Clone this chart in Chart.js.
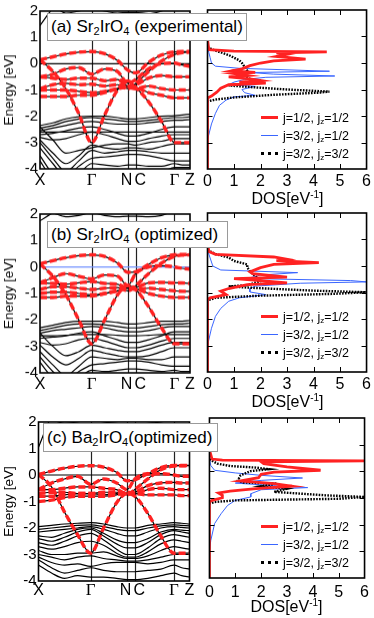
<!DOCTYPE html>
<html>
<head>
<meta charset="utf-8">
<script src="https://cdn.jsdelivr.net/npm/chart.js@4.4.1/dist/chart.umd.min.js"></script>
<style>
  body { margin: 0; background: #fff; font-family: "Liberation Sans", Arial, sans-serif; }
  #fig { position: relative; width: 374px; height: 618px; overflow: hidden; }
  canvas { position: absolute; }
  .tag { position: absolute; box-sizing: border-box; background: #fff; border: 1px solid #9a9a9a;
         font-size: 17px; line-height: 26px; padding-left: 3px; white-space: nowrap; color: #000; }
  .tag sub, .leg sub { font-size: 65%; vertical-align: -0.25em; line-height: 0; }
  .leg { position: absolute; font-size: 12.5px; white-space: nowrap; color: #000; height: 16px; line-height: 16px; }
  .leg .mk { position: absolute; left: 0; top: 7px; width: 17px; }
  .leg span.t { position: absolute; left: 22px; top: 0; }
  .dost { position: absolute; width: 160px; text-align: center; font-size: 16px; line-height: 20px; color: #000; }
  .dost sup { font-size: 10px; vertical-align: 6px; line-height: 0; }
</style>
</head>
<body>
<div id="fig">
  <canvas id="bandA"></canvas><canvas id="dosA"></canvas>
  <canvas id="bandB"></canvas><canvas id="dosB"></canvas>
  <canvas id="bandC"></canvas><canvas id="dosC"></canvas>
</div>
<script>
// k-path and tick labels
const kPos = [0, 0.25, 0.5, 0.75, 1.0, 1.25, 1.5, 1.7, 1.85, 2.1, 2.35, 2.6, 2.75, 2.9];
const kLabels = ["X", "Γ", "N", "C", "Γ", "Z"];
const kLabelPos = [0, 1.0, 1.7, 1.85, 2.6, 2.9];
const energyRange = [-4, 2];
const dosRange = [0, 6];
const legendLabels = [["j=1/2, j", "z", "=1/2"], ["j=3/2, j", "z", "=1/2"], ["j=3/2, j", "z", "=3/2"]];
const panelTitles = [
  "(a) Sr<sub>2</sub>IrO<sub>4</sub> (experimental)",
  "(b) Sr<sub>2</sub>IrO<sub>4</sub> (optimized)",
  "(c) Ba<sub>2</sub>IrO<sub>4</sub>(optimized)"
];

// (a) Sr2IrO4 experimental - bands
const redA = [
  [0.15, 0.26, 0.37, 0.44, 0.46, 0.38, 0.12, -0.25, -0.35, 0.05, 0.33, 0.45, 0.46, 0.46],
  [0.15, -0.30, -0.95, -1.90, -3.00, -1.95, -1.00, -0.65, -0.90, -1.45, -2.20, -3.00, -3.00, -3.00],
  [-0.50, -0.40, -0.20, -0.15, -0.40, -0.20, -0.30, -0.75, -0.60, -0.20, 0.00, 0.02, -0.05, -0.10],
  [-0.50, -0.55, -0.60, -0.55, -0.55, -0.65, -0.60, -0.85, -0.80, -0.55, -0.45, -0.50, -0.50, -0.50],
  [-0.95, -0.80, -0.75, -0.80, -0.78, -0.85, -0.80, -0.95, -0.75, -0.30, 0.10, 0.35, 0.42, 0.44],
  [-1.00, -1.00, -1.00, -1.05, -1.10, -1.05, -0.95, -0.90, -0.95, -0.85, -0.95, -1.00, -1.00, -1.00],
  [-1.25, -1.25, -1.25, -1.20, -1.20, -1.10, -0.95, -0.85, -0.90, -1.10, -1.20, -1.30, -1.30, -1.30]
];
const blackA = [
  [-2.35, -2.25, -2.10, -2.02, -2.00, -2.00, -2.05, -2.10, -2.10, -2.05, -2.00, -1.98, -1.95, -1.92],
  [-2.45, -2.35, -2.20, -2.10, -2.05, -2.10, -2.15, -2.20, -2.20, -2.15, -2.10, -2.05, -2.05, -2.02],
  [-2.55, -2.45, -2.35, -2.25, -2.20, -2.25, -2.30, -2.30, -2.30, -2.25, -2.20, -2.15, -2.15, -2.12],
  [-2.60, -2.60, -2.60, -2.60, -2.60, -2.60, -2.60, -2.60, -2.60, -2.60, -2.60, -2.60, -2.60, -2.60],
  [-2.70, -2.65, -2.55, -2.45, -2.40, -2.50, -2.65, -2.75, -2.75, -2.65, -2.50, -2.40, -2.40, -2.40],
  [-2.80, -2.90, -2.85, -2.70, -2.60, -2.70, -2.85, -2.95, -2.95, -2.85, -2.75, -2.70, -2.70, -2.70],
  [-2.40, -2.90, -3.40, -3.30, -3.20, -3.10, -3.05, -3.05, -3.10, -3.00, -2.95, -2.85, -2.85, -2.85],
  [-2.90, -3.40, -3.80, -3.50, -3.10, -3.20, -3.25, -3.20, -3.20, -3.25, -3.15, -3.05, -3.05, -3.05],
  [-3.00, -3.60, -4.10, -3.70, -3.30, -3.40, -3.35, -3.30, -3.30, -3.35, -3.40, -3.40, -3.40, -3.40],
  [-3.20, -3.80, -4.30, -3.90, -3.60, -3.55, -3.50, -3.45, -3.45, -3.50, -3.60, -3.70, -3.70, -3.70],
  [-3.50, -4.20, -4.50, -4.20, -3.80, -3.85, -3.90, -3.85, -3.85, -3.90, -3.90, -3.80, -3.85, -3.85],
  [-3.70, -4.40, -4.60, -4.40, -4.10, -4.10, -4.05, -4.05, -4.05, -4.05, -4.10, -3.95, -3.95, -3.95],
  [1.45, 2.10, 2.40, 2.40, 2.30, 2.40, 2.40, 2.40, 2.40, 2.40, 2.40, 2.40, 2.40, 2.40],
  [2.30, 2.20, 1.92, 2.00, 2.10, 2.00, 1.92, 1.95, 1.95, 1.90, 2.00, 2.20, 2.20, 2.20]
];

// (b) Sr2IrO4 optimized - bands
const redB = [
  [0.12, 0.24, 0.35, 0.43, 0.46, 0.40, 0.15, -0.20, -0.18, 0.10, 0.35, 0.46, 0.47, 0.47],
  [0.12, -0.35, -1.05, -2.00, -2.90, -2.00, -1.05, -0.70, -0.85, -1.50, -2.30, -2.90, -2.90, -2.90],
  [-0.60, -0.40, -0.25, -0.35, -0.45, -0.30, -0.35, -0.70, -0.25, 0.00, 0.05, 0.00, -0.05, -0.08],
  [-0.60, -0.62, -0.65, -0.60, -0.55, -0.62, -0.65, -0.80, -0.78, -0.60, -0.58, -0.60, -0.60, -0.62],
  [-0.85, -0.75, -0.75, -0.80, -0.85, -0.80, -0.78, -0.90, -0.70, -0.25, 0.15, 0.40, 0.45, 0.46],
  [-1.00, -0.95, -0.95, -1.00, -1.05, -1.00, -0.90, -0.80, -0.85, -0.80, -0.85, -0.90, -0.92, -0.92],
  [-1.15, -1.15, -1.10, -1.10, -1.10, -1.00, -0.90, -0.80, -0.82, -1.00, -1.10, -1.15, -1.15, -1.15]
];
const blackB = [
  [-2.30, -2.20, -2.10, -2.05, -2.05, -2.05, -2.10, -2.15, -2.15, -2.10, -2.05, -2.05, -2.05, -2.02],
  [-2.40, -2.30, -2.20, -2.15, -2.15, -2.18, -2.25, -2.30, -2.30, -2.25, -2.18, -2.15, -2.15, -2.12],
  [-2.50, -2.40, -2.35, -2.30, -2.25, -2.30, -2.40, -2.45, -2.45, -2.40, -2.30, -2.25, -2.25, -2.25],
  [-2.60, -2.60, -2.58, -2.55, -2.55, -2.55, -2.58, -2.60, -2.60, -2.58, -2.55, -2.55, -2.55, -2.55],
  [-2.70, -2.65, -2.60, -2.50, -2.45, -2.60, -2.75, -2.85, -2.85, -2.75, -2.60, -2.45, -2.45, -2.45],
  [-2.85, -2.95, -2.90, -2.75, -2.70, -2.80, -2.95, -3.05, -3.05, -2.95, -2.80, -2.70, -2.70, -2.70],
  [-2.50, -3.00, -3.35, -3.20, -2.95, -3.05, -3.15, -3.20, -3.20, -3.10, -2.95, -2.85, -2.85, -2.85],
  [-2.95, -3.40, -3.70, -3.45, -3.15, -3.25, -3.35, -3.40, -3.40, -3.35, -3.20, -3.05, -3.05, -3.05],
  [-3.20, -3.70, -4.10, -3.75, -3.40, -3.45, -3.50, -3.45, -3.45, -3.50, -3.50, -3.40, -3.40, -3.40],
  [-3.40, -3.95, -4.30, -3.95, -3.70, -3.65, -3.60, -3.55, -3.55, -3.60, -3.70, -3.75, -3.75, -3.75],
  [-3.60, -4.20, -4.50, -4.20, -3.90, -3.95, -3.90, -3.85, -3.85, -3.90, -3.95, -3.90, -3.95, -3.95],
  [1.75, 2.05, 2.30, 2.40, 2.40, 2.40, 2.40, 2.40, 2.40, 2.40, 2.40, 2.40, 2.40, 2.40],
  [2.20, 2.05, 1.90, 1.95, 2.05, 1.95, 1.90, 1.92, 1.92, 1.90, 1.95, 2.10, 2.10, 2.10]
];

// (c) Ba2IrO4 optimized - bands
const redC = [
  [0.02, 0.15, 0.26, 0.33, 0.35, 0.30, 0.10, -0.22, -0.18, 0.05, 0.28, 0.36, 0.36, 0.36],
  [0.02, -0.45, -1.40, -2.25, -2.95, -2.00, -1.05, -0.70, -0.80, -1.45, -2.30, -2.95, -2.95, -2.95],
  [-0.55, -0.30, -0.15, -0.05, -0.35, -0.15, -0.30, -0.55, -0.15, 0.05, 0.05, 0.00, -0.05, -0.05],
  [-0.55, -0.55, -0.50, -0.45, -0.45, -0.50, -0.55, -0.70, -0.65, -0.40, -0.30, -0.28, -0.30, -0.30],
  [-0.70, -0.65, -0.65, -0.70, -0.70, -0.65, -0.65, -0.75, -0.55, -0.15, 0.20, 0.34, 0.35, 0.35],
  [-0.80, -0.80, -0.75, -0.70, -0.70, -0.75, -0.70, -0.70, -0.70, -0.55, -0.50, -0.55, -0.55, -0.55],
  [-1.00, -0.95, -0.85, -0.80, -0.80, -0.80, -0.75, -0.65, -0.70, -0.75, -0.75, -0.75, -0.78, -0.78]
];
const blackC = [
  [-1.95, -1.90, -1.85, -1.82, -1.80, -1.85, -1.95, -2.00, -2.00, -1.90, -1.85, -1.80, -1.82, -1.85],
  [-2.05, -2.00, -1.95, -1.90, -1.88, -1.95, -2.05, -2.10, -2.10, -2.00, -1.92, -1.88, -1.90, -1.92],
  [-2.15, -2.10, -2.05, -2.00, -1.95, -2.05, -2.20, -2.30, -2.30, -2.15, -2.00, -1.95, -1.98, -2.00],
  [-2.30, -2.35, -2.20, -2.05, -2.00, -2.20, -2.45, -2.55, -2.55, -2.40, -2.15, -2.05, -2.08, -2.10],
  [-2.40, -2.50, -2.35, -2.15, -2.05, -2.30, -2.60, -2.75, -2.75, -2.55, -2.25, -2.10, -2.15, -2.20],
  [-2.55, -2.65, -2.50, -2.30, -2.20, -2.45, -2.80, -3.00, -3.00, -2.75, -2.40, -2.25, -2.30, -2.35],
  [-2.70, -2.80, -2.70, -2.55, -2.50, -2.65, -2.95, -3.10, -3.10, -2.90, -2.60, -2.45, -2.50, -2.55],
  [-2.85, -3.00, -3.00, -2.95, -2.95, -2.90, -3.05, -3.15, -3.15, -3.05, -2.85, -2.70, -2.75, -2.80],
  [-3.00, -3.10, -3.20, -3.10, -3.05, -3.15, -3.20, -3.25, -3.25, -3.20, -3.10, -3.00, -3.00, -3.00],
  [-3.10, -3.30, -3.40, -3.35, -3.45, -3.35, -3.30, -3.30, -3.30, -3.35, -3.30, -3.20, -3.20, -3.20],
  [-3.20, -3.50, -3.70, -3.60, -3.50, -3.60, -3.65, -3.65, -3.65, -3.60, -3.55, -3.40, -3.50, -3.55],
  [-3.40, -3.70, -3.90, -3.80, -3.85, -3.85, -3.90, -3.95, -3.95, -3.90, -3.80, -3.70, -3.80, -3.85],
  [1.05, 2.20, 2.50, 2.50, 2.50, 2.50, 2.50, 2.50, 2.50, 2.50, 2.50, 2.50, 2.50, 2.50],
  [2.30, 2.10, 1.95, 2.00, 2.10, 2.00, 1.95, 1.90, 1.90, 1.95, 2.00, 2.10, 2.10, 2.10]
];

// DOS curves: energy (eV) and DOS (1/eV) pairs
const dosA_redE = [0.9, 0.50, 0.45, 0.42, 0.38, 0.33, 0.25, 0.15, 0.08, 0.00, -0.10, -0.22, -0.30, -0.35, -0.40, -0.47, -0.52, -0.60, -0.66, -0.72, -0.76, -0.82, -0.95, -1.10, -1.25, -1.32, -4.0];
const dosA_redV = [0, 0.05, 1.0, 4.5, 2.6, 3.0, 2.6, 3.7, 2.5, 2.0, 1.6, 1.3, 0.9, 1.8, 1.0, 1.5, 0.8, 1.6, 2.0, 1.2, 2.2, 0.8, 0.5, 0.35, 0.15, 0, 0];
const dosA_blueE = [0.6, 0.4, 0.2, 0.0, -0.12, -0.2, -0.31, -0.36, -0.42, -0.49, -0.54, -0.62, -0.72, -0.82, -0.88, -1.0, -1.12, -1.22, -1.28, -1.4, -1.6, -1.9, -2.3, -2.9];
const dosA_blueV = [0, 0.05, 0.1, 0.15, 0.3, 1.2, 4.6, 1.6, 2.5, 4.8, 2.2, 1.4, 1.0, 0.8, 1.8, 1.3, 1.4, 1.8, 1.0, 0.7, 0.45, 0.3, 0.15, 0];
const dosA_blackE = [0.6, 0.5, 0.4, 0.3, 0.2, 0.1, 0.0, -0.15, -0.3, -0.45, -0.6, -0.75, -0.85, -0.92, -1.0, -1.08, -1.12, -1.2, -1.3, -1.38, -1.45];
const dosA_blackV = [0, 0.2, 0.5, 0.8, 1.0, 1.2, 1.3, 1.4, 1.5, 1.4, 1.6, 1.7, 0.8, 1.8, 3.0, 4.6, 4.2, 2.5, 1.0, 0.3, 0];

const dosB_redE = [0.9, 0.55, 0.44, 0.34, 0.25, 0.20, 0.13, 0.06, -0.06, -0.22, -0.29, -0.42, -0.48, -0.55, -0.64, -0.70, -0.85, -0.95, -1.08, -1.2, -1.27, -4.0];
const dosB_redV = [0, 0.05, 0.3, 2.5, 3.0, 2.6, 4.2, 2.5, 2.0, 1.6, 1.7, 3.0, 1.0, 2.0, 3.0, 1.5, 0.8, 0.5, 0.7, 0.1, 0, 0];
const dosB_blueE = [0.6, 0.0, -0.15, -0.25, -0.34, -0.47, -0.55, -0.60, -0.65, -0.76, -0.85, -0.98, -1.08, -1.2, -1.33, -1.6, -1.9, -2.35, -3.0];
const dosB_blueV = [0, 0.2, 0.5, 3.4, 2.0, 1.5, 5.4, 6.0, 3.5, 1.8, 1.6, 1.6, 2.2, 1.2, 0.8, 0.5, 0.3, 0.15, 0];
const dosB_blackE = [0.6, 0.45, 0.32, 0.19, 0.06, -0.06, -0.19, -0.38, -0.57, -0.72, -0.77, -0.83, -0.93, -0.99, -1.05, -1.12, -1.2, -1.3];
const dosB_blackV = [0, 0.3, 0.8, 1.0, 1.5, 1.5, 1.6, 1.8, 2.0, 1.5, 0.8, 1.8, 4.0, 6.0, 4.8, 2.0, 0.3, 0];

const dosC_redE = [0.8, 0.46, 0.42, 0.39, 0.36, 0.29, 0.17, 0.04, -0.03, -0.11, -0.24, -0.36, -0.46, -0.56, -0.65, -0.74, -0.81, -0.9, -0.99, -1.09, -1.15, -4.0];
const dosC_redV = [0, 0.1, 0.5, 6.0, 2.0, 2.1, 3.0, 4.3, 2.5, 2.0, 1.9, 1.2, 2.5, 3.2, 1.8, 0.8, 0.35, 0.5, 0.5, 0.1, 0, 0];
const dosC_blueE = [0.5, 0.22, 0.04, -0.06, -0.15, -0.25, -0.34, -0.44, -0.54, -0.61, -0.69, -0.84, -0.96, -1.09, -1.28, -1.59, -1.96, -2.6, -3.0];
const dosC_blueV = [0, 0.05, 0.2, 1.0, 2.0, 3.6, 2.0, 1.0, 2.5, 3.8, 2.0, 1.6, 1.6, 1.0, 0.7, 0.45, 0.2, 0.05, 0];
const dosC_blackE = [0.45, 0.29, 0.2, 0.14, 0.08, 0.01, -0.15, -0.34, -0.42, -0.46, -0.56, -0.65, -0.77, -0.9, -0.96, -1.03, -1.09, -1.15, -1.21];
const dosC_blackV = [0, 0.3, 0.8, 1.8, 2.3, 1.6, 1.2, 1.1, 1.3, 2.6, 2.0, 3.0, 2.5, 4.5, 6.0, 5.0, 1.0, 0.2, 0];

const RED = "#ff2222", BLUE = "#3a66ff", INK = "#000";
Chart.defaults.font.family = '"Liberation Sans", Arial, sans-serif';
Chart.defaults.color = "#000";
Chart.defaults.animation = false;

// frame, inner ticks, high-symmetry lines and k labels
const framePlugin = {
  id: "frame",
  beforeDatasetsDraw(chart, args, o) {
    if (!o.kLines) return;
    const { ctx, chartArea: a, scales } = chart;
    ctx.save();
    ctx.strokeStyle = "#222";
    ctx.lineWidth = 1.2;
    kLabelPos.slice(1, -1).forEach(k => {
      const x = Math.round(scales.x.getPixelForValue(k)) + 0.5;
      ctx.beginPath(); ctx.moveTo(x, a.top); ctx.lineTo(x, a.bottom); ctx.stroke();
    });
    ctx.restore();
  },
  afterDraw(chart, args, o) {
    const { ctx, chartArea: a, scales } = chart;
    ctx.save();
    ctx.strokeStyle = "#000";
    if (o.innerTicks) {
      ctx.lineWidth = 1;
      for (let e = energyRange[0] + 1; e < energyRange[1]; e++) {
        const y = Math.round(scales.y.getPixelForValue(e)) + 0.5;
        ctx.beginPath(); ctx.moveTo(a.left, y); ctx.lineTo(a.left + 5, y);
        ctx.moveTo(a.right, y); ctx.lineTo(a.right - 5, y); ctx.stroke();
      }
      for (let d = dosRange[0] + 1; d < dosRange[1]; d++) {
        const x = Math.round(scales.x.getPixelForValue(d)) + 0.5;
        ctx.beginPath(); ctx.moveTo(x, a.top); ctx.lineTo(x, a.top + 5);
        ctx.moveTo(x, a.bottom); ctx.lineTo(x, a.bottom - 5); ctx.stroke();
      }
    }
    ctx.lineWidth = 1.6;
    ctx.strokeRect(a.left, a.top, a.right - a.left, a.bottom - a.top);
    if (o.kLabels) {
      ctx.fillStyle = "#000";
      ctx.textBaseline = "middle";
      kLabels.forEach((lab, i) => {
        let x = scales.x.getPixelForValue(kLabelPos[i]);
        ctx.textAlign = "center";
        ctx.font = lab === "Γ" ? '17px "Liberation Serif"' : '16px "Liberation Sans"';
        if (lab === "N") x -= 1.5;
        if (lab === "C") x += 4.5;
        ctx.fillText(lab, x, a.bottom + o.labelOffset);
      });
    }
    ctx.restore();
  }
};

function place(id, left, top, w, h) {
  const c = document.getElementById(id);
  c.width = w; c.height = h;
  c.style.left = left + "px"; c.style.top = top + "px";
  c.style.width = w + "px"; c.style.height = h + "px";
  return c;
}

function bandChart(id, p, red, black, zeroColor) {
  const h = p.bottom - p.top + 40;
  const cv = place(id, 0, p.top - 10, 200, h);
  const pts = b => kPos.map((k, i) => ({ x: k, y: b[i] }));
  const line = { pointRadius: 0, fill: false, cubicInterpolationMode: "monotone" };
  const datasets = [];
  red.forEach(b => datasets.push({ ...line, data: pts(b), borderColor: RED, borderWidth: 3.4, borderDash: [7, 3] }));
  datasets.push({ ...line, data: [{ x: kPos[0], y: 0 }, { x: kPos[kPos.length - 1], y: 0 }], borderColor: zeroColor, borderWidth: 1.2 });
  red.forEach(b => datasets.push({ ...line, data: pts(b), borderColor: INK, borderWidth: 1.2 }));
  black.forEach(b => datasets.push({ ...line, data: pts(b), borderColor: INK, borderWidth: 1.2 }));
  new Chart(cv, {
    type: "line",
    data: { datasets },
    plugins: [framePlugin],
    options: {
      responsive: false,
      layout: { padding: { top: 10, right: 200 - p.right, bottom: 30, left: 0 } },
      plugins: { legend: { display: false }, tooltip: { enabled: false },
                 frame: { kLines: true, kLabels: true, labelOffset: p.labelOffset } },
      scales: {
        x: { type: "linear", min: kPos[0], max: kPos[kPos.length - 1], display: false },
        y: {
          min: energyRange[0], max: energyRange[1],
          afterFit: s => { s.width = p.left; },
          grid: { display: false, drawTicks: false },
          border: { display: false },
          ticks: { stepSize: 1, padding: 2, font: { size: 15 } },
          title: { display: true, text: "Energy [eV]", font: { size: 13.5 }, padding: { top: 1, bottom: 0 } }
        }
      }
    }
  });
}

function dosChart(id, p, red, blue, black) {
  const h = p.bottom - p.top + 50;
  const cv = place(id, 200, p.top - 10, 174, h);
  const pts = (E, V) => E.map((e, i) => ({ x: V[i], y: e }));
  const line = { pointRadius: 0, fill: false, showLine: true, tension: 0 };
  new Chart(cv, {
    type: "scatter",
    data: {
      datasets: [
        { ...line, data: pts(red[0], red[1]), borderColor: RED, borderWidth: 2.8 },
        { ...line, data: pts(black[0], black[1]), borderColor: "#000", borderWidth: 2.4, borderDash: [1.6, 1.3] },
        { ...line, data: pts(blue[0], blue[1]), borderColor: BLUE, borderWidth: 1 }
      ]
    },
    plugins: [framePlugin],
    options: {
      responsive: false,
      layout: { padding: { top: 10, right: 374 - p.right, bottom: 0, left: p.left - 200 } },
      plugins: { legend: { display: false }, tooltip: { enabled: false }, frame: { innerTicks: true } },
      scales: {
        x: {
          type: "linear", min: dosRange[0], max: dosRange[1],
          afterFit: s => { s.height = 40; },
          grid: { display: false, drawTicks: false },
          border: { display: false },
          ticks: { stepSize: 1, padding: p.tickPad, font: { size: 16 }, maxRotation: 0 }
        },
        y: { type: "linear", min: energyRange[0], max: energyRange[1], display: false }
      }
    }
  });
}

function addHtml(cls, css, html) {
  const d = document.createElement("div");
  d.className = cls;
  Object.assign(d.style, css);
  d.innerHTML = html;
  document.getElementById("fig").appendChild(d);
  return d;
}

const rows = [
  { band: { top: 10, bottom: 168.5, left: 40, right: 190, labelOffset: 11.5 },
    dos: { top: 9.5, bottom: 168.5, left: 207.5, right: 367.5, tickPad: 3 },
    tag: { left: 47, top: 13, width: 200, height: 28 }, legTop: 118, dosTitle: 198.5 },
  { band: { top: 213, bottom: 372.5, left: 40, right: 190, labelOffset: 11.5 },
    dos: { top: 212.5, bottom: 371.5, left: 207.5, right: 367.5, tickPad: 3 },
    tag: { left: 47, top: 221, width: 181, height: 27 }, legTop: 317, dosTitle: 402 },
  { band: { top: 421, bottom: 581, left: 38.5, right: 189.5, labelOffset: 10 },
    dos: { top: 417.5, bottom: 577.5, left: 206.5, right: 366.5, tickPad: 5 },
    tag: { left: 43, top: 423, width: 175, height: 29 }, legTop: 527, dosTitle: 607 }
];

bandChart("bandA", rows[0].band, redA, blackA, INK);
bandChart("bandB", rows[1].band, redB, blackB, "#7090ff");
bandChart("bandC", rows[2].band, redC, blackC, INK);
dosChart("dosA", rows[0].dos, [dosA_redE, dosA_redV], [dosA_blueE, dosA_blueV], [dosA_blackE, dosA_blackV]);
dosChart("dosB", rows[1].dos, [dosB_redE, dosB_redV], [dosB_blueE, dosB_blueV], [dosB_blackE, dosB_blackV]);
dosChart("dosC", rows[2].dos, [dosC_redE, dosC_redV], [dosC_blueE, dosC_blueV], [dosC_blackE, dosC_blackV]);

const markers = [
  "border-top:3px solid " + RED + ";margin-top:-1.5px",
  "border-top:1px solid " + BLUE + ";margin-top:-0.5px",
  "border-top:3px dotted #000;margin-top:-1.5px"
];
rows.forEach((r, i) => {
  addHtml("tag", { left: r.tag.left + "px", top: r.tag.top + "px", width: r.tag.width + "px", height: r.tag.height + "px", lineHeight: (r.tag.height - 2) + "px" }, panelTitles[i]);
  legendLabels.forEach((l, j) => {
    addHtml("leg", { left: "261px", top: (r.legTop + j * 18 - 8) + "px", width: "110px" },
      '<div class="mk" style="' + markers[j] + '"></div><span class="t">' + l[0] + "<sub>" + l[1] + "</sub>" + l[2] + "</span>");
  });
  addHtml("dost", { left: r.dos.left + "px", top: (r.dosTitle - 10) + "px" }, "DOS[eV<sup>-1</sup>]");
});
</script>
</body>
</html>
